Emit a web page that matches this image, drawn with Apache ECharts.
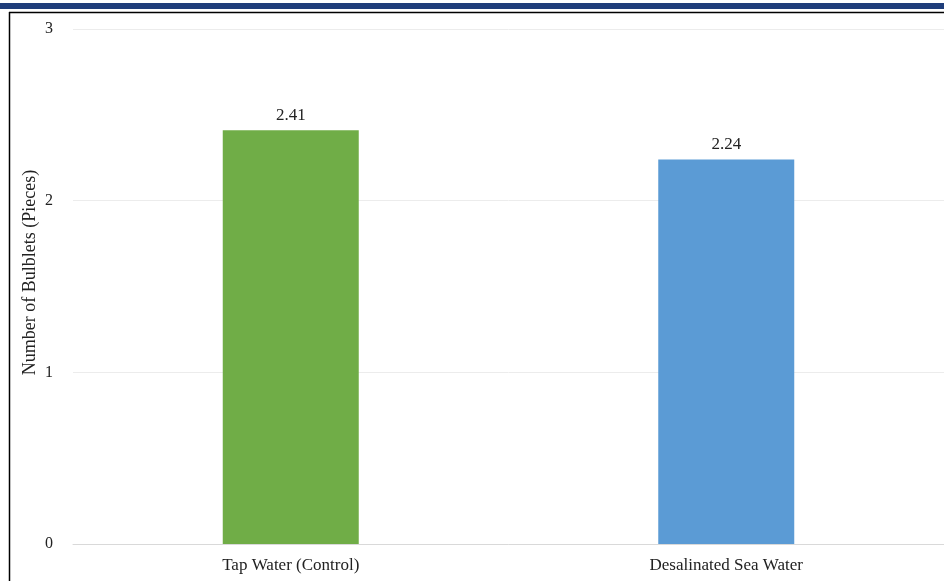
<!DOCTYPE html>
<html><head><meta charset="utf-8">
<script src="https://cdn.jsdelivr.net/npm/echarts@6/dist/echarts.min.js"></script>
<style>html,body{margin:0;padding:0;background:#fff}#c{width:944px;height:581px}</style>
</head><body><div id="c"></div>
<script>
const categories = ['Tap Water (Control)', 'Desalinated Sea Water'];
const values = [2.41, 2.24];
const barColors = ['#70ad47', '#5b9bd5'];
const yTicks = [0, 1, 2, 3];

const chart = echarts.init(document.getElementById('c'));
const font = '"Liberation Serif", "Times New Roman", serif';
chart.setOption({
  animation: false,
  graphic: [
    {type: 'rect', shape: {x: 0, y: 3, width: 944, height: 6}, style: {fill: '#1f3d7a'}},
    {type: 'line', shape: {x1: 9, y1: 12.5, x2: 944, y2: 12.5}, style: {stroke: '#000', lineWidth: 1.5}},
    {type: 'line', shape: {x1: 9.5, y1: 12, x2: 9.5, y2: 581}, style: {stroke: '#000', lineWidth: 1.5}}
  ],
  grid: {left: 73, right: 0, top: 29, bottom: 37},
  xAxis: {
    type: 'category', data: categories,
    axisLine: {lineStyle: {color: '#d9d9d9'}},
    axisTick: {show: false},
    axisLabel: {color: '#222', fontFamily: font, fontSize: 17, margin: 13}
  },
  yAxis: {
    type: 'value', min: yTicks[0], max: yTicks[yTicks.length - 1], interval: 1,
    name: 'Number of Bulblets (Pieces)', nameLocation: 'middle', nameGap: 34,
    nameMoveOverlap: false,
    nameTextStyle: {color: '#222', fontFamily: font, fontSize: 18, padding: [0, 0, 0, 28]},
    axisLine: {show: false}, axisTick: {show: false},
    axisLabel: {color: '#222', fontFamily: font, fontSize: 16, margin: 20},
    splitLine: {lineStyle: {color: '#ececec'}}
  },
  series: [{
    type: 'bar', barWidth: 136,
    data: values.map((v, i) => ({value: v, itemStyle: {color: barColors[i]}})),
    label: {show: true, position: 'top', distance: 6, color: '#222', fontFamily: font, fontSize: 17,
      formatter: p => p.value.toFixed(2)}
  }]
});
</script></body></html>
